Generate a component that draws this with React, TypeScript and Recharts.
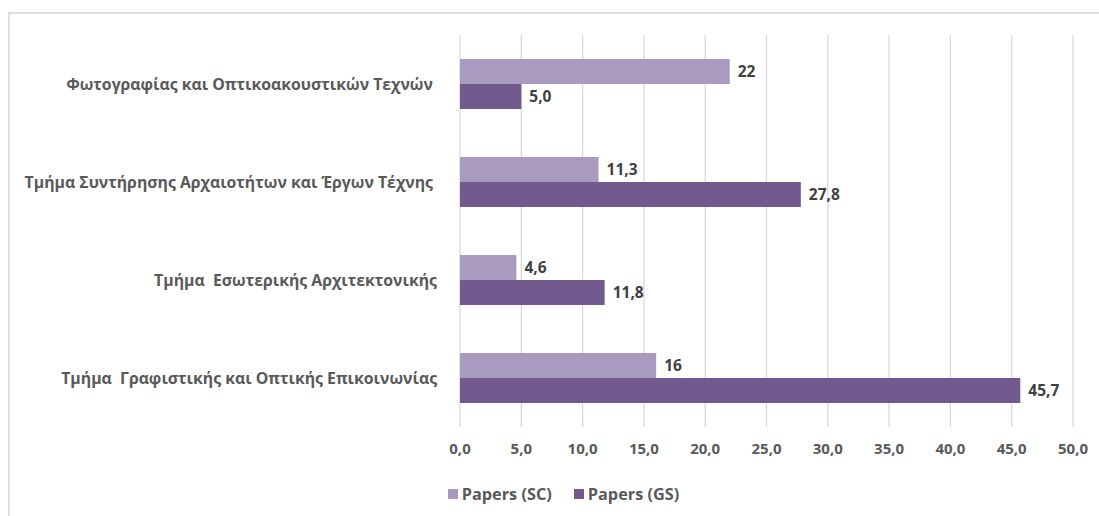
import React from 'react';
import { BarChart, Bar, XAxis, YAxis, CartesianGrid, Legend, LabelList } from 'recharts';

// Departments, listed top to bottom
const categories = [
  'Φωτογραφίας και Οπτικοακουστικών Τεχνών ',
  'Τμήμα Συντήρησης Αρχαιοτήτων και Έργων Τέχνης ',
  'Τμήμα  Εσωτερικής Αρχιτεκτονικής',
  'Τμήμα  Γραφιστικής και Οπτικής Επικοινωνίας',
];
const papersSC = [22, 11.3, 4.6, 16];
const papersGS = [5.0, 27.8, 11.8, 45.7];
const xTicks = [0, 5, 10, 15, 20, 25, 30, 35, 40, 45, 50];

const seriesNames = { sc: 'Papers (SC)', gs: 'Papers (GS)' };
const colors = { sc: '#A99BBF', gs: '#72598E' };

const data = categories.map((name, i) => ({ name, sc: papersSC[i], gs: papersGS[i] }));

const FONT = '"Open Sans", "Noto Sans", sans-serif';
const TEXT_GRAY = '#595959';

const comma = (s: string) => s.replace('.', ',');
const fmtAxis = (v: number) => comma(v.toFixed(1));
const fmtSC = (v: any) => comma(String(v));
const fmtGS = (v: any) => comma(Number(v).toFixed(1));

const CategoryTick = (props: any) => {
  const { x, y, payload } = props;
  return (
    <text
      x={x}
      y={y}
      textAnchor="end"
      dominantBaseline="central"
      fill={TEXT_GRAY}
      fontFamily={FONT}
      fontSize={15.8}
      fontWeight={700}
      style={{ whiteSpace: 'pre' }}
    >
      {payload.value}
    </text>
  );
};

const LegendContent = () => (
  <div style={{ display: 'flex', justifyContent: 'center', gap: 22, fontFamily: FONT, fontSize: 16.3, fontWeight: 700, color: TEXT_GRAY, lineHeight: '20px' }}>
    {(['sc', 'gs'] as const).map((k) => (
      <div key={k} style={{ display: 'flex', alignItems: 'center' }}>
        <span style={{ display: 'inline-block', width: 10, height: 10, background: colors[k], marginRight: 4 }} />
        <span>{seriesNames[k]}</span>
      </div>
    ))}
  </div>
);

export default function App() {
  return (
    <div style={{ position: 'fixed', left: 0, top: 0, width: 1099, height: 516, overflow: 'hidden', background: '#fff' }}>
      <div
        style={{
          position: 'absolute',
          left: 8,
          top: 12,
          width: 1099,
          height: 520,
          borderTop: '2px solid #dedede',
          borderLeft: '2px solid #dedede',
        }}
      />
      <div style={{ position: 'absolute', left: 0, top: 0 }}>
        <BarChart
          width={1099}
          height={516}
          data={data}
          layout="vertical"
          margin={{ top: 35, right: 26, bottom: 59, left: 0 }}
          barCategoryGap={24}
          barGap={0}
        >
          <CartesianGrid horizontal={false} stroke="#d9d9d9" strokeWidth={1.3} />
          <XAxis
            type="number"
            domain={[0, 50]}
            ticks={xTicks}
            tickFormatter={fmtAxis}
            axisLine={false}
            tickLine={false}
            tickMargin={10}
            height={30}
            tick={{ fill: TEXT_GRAY, fontFamily: FONT, fontSize: 15, fontWeight: 700 }}
          />
          <YAxis
            type="category"
            dataKey="name"
            width={460}
            axisLine={false}
            tickLine={false}
            tickMargin={17}
            tick={<CategoryTick />}
          />
          <Legend
            layout="horizontal"
            verticalAlign="middle"
            align="center"
            content={<LegendContent />}
            wrapperStyle={{ top: 484, left: 14, width: 1099 }}
          />
          <Bar dataKey="sc" name={seriesNames.sc} fill={colors.sc} isAnimationActive={false}>
            <LabelList dataKey="sc" position="right" offset={8} formatter={fmtSC} fill="#404040" fontFamily={FONT} fontSize={15.5} fontWeight={700} />
          </Bar>
          <Bar dataKey="gs" name={seriesNames.gs} fill={colors.gs} isAnimationActive={false}>
            <LabelList dataKey="gs" position="right" offset={8} formatter={fmtGS} fill="#404040" fontFamily={FONT} fontSize={15.5} fontWeight={700} />
          </Bar>
        </BarChart>
      </div>
    </div>
  );
}
